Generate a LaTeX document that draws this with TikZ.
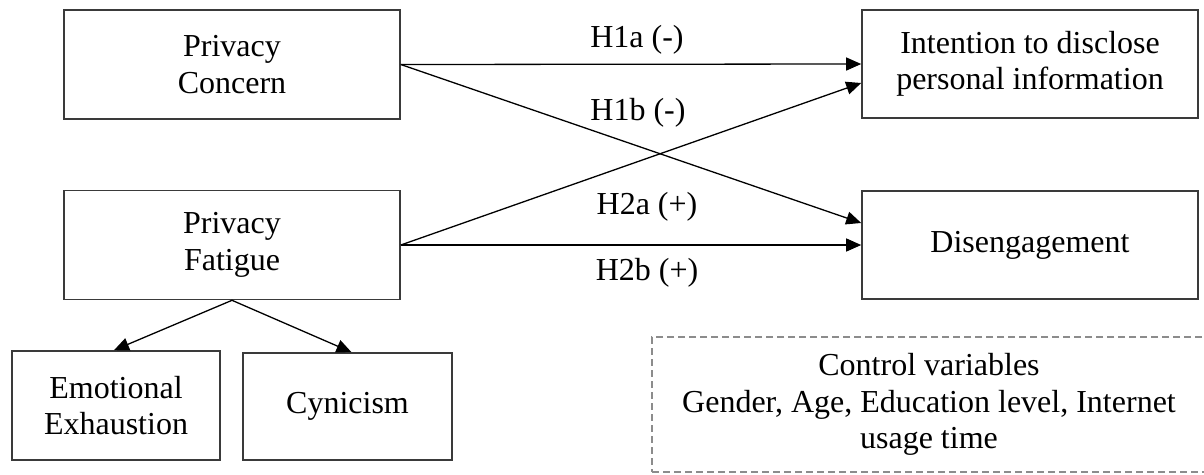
\documentclass[tikz,border=0pt]{standalone}
\usepackage{fontspec}
\setmainfont{Liberation Serif}
\usetikzlibrary{arrows.meta}
\definecolor{boxgray}{HTML}{3A3A3A}
\definecolor{dashgray}{HTML}{8C8C8C}
\begin{document}
\begin{tikzpicture}[x=1pt,y=-1pt,
  txt/.style={font=\fontsize{32}{36.5}\selectfont},
  box/.style={txt, draw=boxgray, line width=1.6pt, fill=white, inner sep=0pt, align=center},
  ctrlbox/.style={txt, draw=dashgray, line width=1.2pt, dash pattern=on 7pt off 4pt, fill=white, inner sep=0pt, align=center},
  lab/.style={txt, inner sep=0pt, anchor=base},
  arr/.style={draw=black, line width=1.3pt, -{Triangle[length=15pt,width=13pt]}}]
\useasboundingbox (0,0) rectangle (1204,474);
% boxes
\node[box, minimum width=336pt, minimum height=109pt] (pc) at (232,64.5) {Privacy\\Concern};
\node[box, minimum width=336pt, minimum height=109pt] (pf) at (232,245) {Privacy\\Fatigue};
\node[box, minimum width=336pt, minimum height=108pt] (int) at (1030,64) {Intention to disclose\\personal information};
\node[box, minimum width=336pt, minimum height=108pt] (dis) at (1030,245) {Disengagement};
\node[box, minimum width=208pt, minimum height=109pt] (ee) at (116,405.5) {Emotional\\Exhaustion};
\node[box, minimum width=209pt, minimum height=107pt] (cyn) at (347.5,406.5) {Cynicism};
\node[ctrlbox, minimum width=554pt, minimum height=135pt] (ctrl) at (929,404.5) {Control variables\\Gender, Age, Education level, Internet\\usage time};
% connectors
\draw[arr] (pc.east) -- (int.west);
\draw[arr] (pc.east) -- ([yshift=22pt]dis.west);
\draw[arr] (pf.east) -- ([yshift=-19pt]int.west);
\draw[arr] (pf.east) -- (dis.west);
\draw[arr] (pf.south) -- ([xshift=-2pt]ee.north);
\draw[arr] (pf.south) -- ([xshift=4pt]cyn.north);
% labels
\node[lab] (h1a) at (637,47) {H1a (-)};
\node[lab] (h1b) at (638,120) {H1b (-)};
\node[lab] (h2a) at (647,214) {H2a (+)};
\node[lab] (h2b) at (647,280) {H2b (+)};
\end{tikzpicture}
\end{document}
